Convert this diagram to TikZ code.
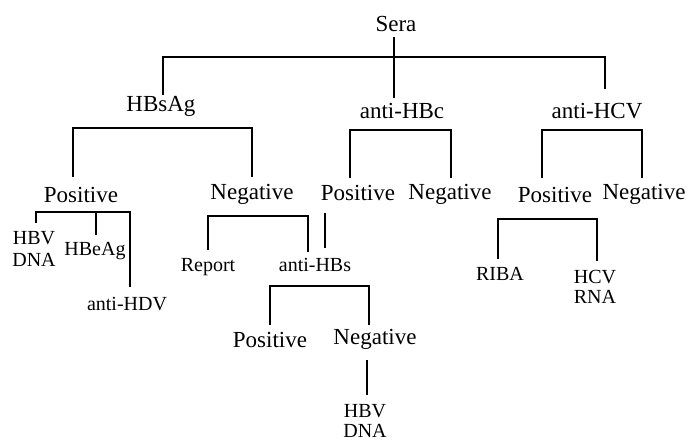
\documentclass[tikz,border=0pt]{standalone}
\usepackage{fontspec}
\setmainfont{Liberation Serif}
\begin{document}
\begin{tikzpicture}[x=1pt,y=-1pt,
  big/.style={font=\fontsize{23}{26}\selectfont, inner sep=0pt, text height=16pt, text depth=5pt, anchor=base},
  sm/.style={font=\fontsize{20}{22}\selectfont, inner sep=0pt, text height=13pt, text depth=4pt, anchor=base},
  smtwo/.style={font=\fontsize{20}{20}\selectfont, inner sep=0pt, align=center, anchor=center},
  conn/.style={line width=1.5pt}]
\useasboundingbox (0,0) rectangle (690,441);
% level 0/1
\node[big] (sera) at (396,32) {Sera};
\node[big] (hbsag) at (161,111) {HBsAg};
\node[big] (antihbc) at (402,119) {anti-HBc};
\node[big] (antihcv) at (597,119) {anti-HCV};
% level 2
\node[big] (pos1) at (81,202) {Positive};
\node[big] (neg1) at (252,199) {Negative};
\node[big] (pos2) at (358,200) {Positive};
\node[big] (neg2) at (450,199) {Negative};
\node[big] (pos3) at (555,202) {Positive};
\node[big] (neg3) at (644,199) {Negative};
% level 3
\node[smtwo, font=\fontsize{20}{22}\selectfont] (hbvdna1) at (34,249.4) {HBV\\DNA};
\node[sm] (hbeag) at (95,255) {HBeAg};
\node[sm] (antihdv) at (127,310) {anti-HDV};
\node[sm] (report) at (208,271) {Report};
\node[sm] (antihbs) at (315,271) {anti-HBs};
\node[sm] (riba) at (500,280) {RIBA};
\node[smtwo] (hcvrna) at (595,286.4) {HCV\\RNA};
% level 4
\node[big] (pos4) at (270,347) {Positive};
\node[big] (neg4) at (375,344) {Negative};
\node[smtwo] (hbvdna2) at (365,420.5) {HBV\\DNA};
% connectors
\draw[conn] ([xshift=-2pt]sera.south) -- ([xshift=-8pt,yshift=5pt]antihbc.north);
\draw[conn] ([xshift=2pt]hbsag.north) -- ++(0,-38) -| ([xshift=8pt,yshift=14pt]antihcv.north);
\draw[conn] ([xshift=-8pt,yshift=9pt]pos1.north) |- ([yshift=-12pt]hbsag.south) -| ([yshift=6pt]neg1.north);
\draw[conn] ([xshift=-8pt,yshift=6pt]pos2.north) |- ([yshift=-6pt]antihbc.south) -| ([xshift=1pt,yshift=5pt]neg2.north);
\draw[conn] ([xshift=-13pt,yshift=8pt]pos3.north) |- ([yshift=-6pt]antihcv.south) -| ([xshift=-2pt,yshift=5pt]neg3.north);
\draw[conn] ([xshift=2pt,yshift=9pt]hbvdna1.north) |- ([yshift=-5pt]pos1.south) -| ([xshift=3pt,yshift=10pt]antihdv.north);
\draw[conn] ([xshift=1pt,yshift=7pt]hbeag.north) -- ([xshift=15pt,yshift=-5pt]pos1.south);
\draw[conn] ([yshift=8pt]report.north) |- ([yshift=-12pt]neg1.south) -| ([xshift=-7pt,yshift=6pt]antihbs.north);
\draw[conn] ([xshift=-33pt,yshift=-8pt]pos2.south) -- ([xshift=10pt,yshift=10pt]antihbs.north);
\draw[conn] ([yshift=6pt]pos4.north) |- ([yshift=-11pt]antihbs.south) -| ([xshift=-6pt,yshift=3pt]neg4.north);
\draw[conn] ([xshift=-8pt,yshift=-11pt]neg4.south) -- ([xshift=2pt,yshift=9pt]hbvdna2.north);
\draw[conn] ([xshift=-2pt,yshift=8pt]riba.north) |- ([yshift=-12pt]pos3.south) -| ([xshift=2pt,yshift=9pt]hcvrna.north);
\end{tikzpicture}
\end{document}
